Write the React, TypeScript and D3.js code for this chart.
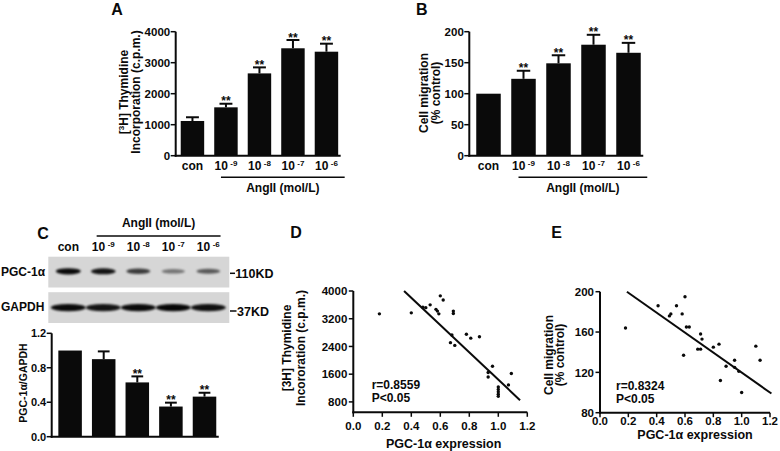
import React from 'react';
import * as d3 from 'd3';

// ---------- data ----------
const categories = ['con', '10 -9', '10 -8', '10 -7', '10 -6'];

const thymidineMean = [1120, 1560, 2655, 3465, 3355];
const thymidineErr = [120, 116, 194, 267, 258];
const thymidineSig = [false, true, true, true, true];
const thymidineTicks = [0, 1000, 2000, 3000, 4000];

const migrationMean = [100, 124, 149, 179, 166];
const migrationErr = [0, 13, 13, 16, 16];
const migrationSig = [false, true, true, true, true];
const migrationTicks = [0, 50, 100, 150, 200];

const ratioMean = [1.0, 0.9, 0.63, 0.35, 0.465];
const ratioErr = [0, 0.09, 0.07, 0.045, 0.045];
const ratioSig = [false, false, true, true, true];
const ratioTicks = [0, 0.4, 0.8, 1.2];

const pgcBandIntensity = [0.95, 0.9, 0.72, 0.45, 0.58];
const gapdhBandIntensity = [0.95, 0.9, 0.95, 0.97, 0.92];

const scatterXTicks = [0, 0.2, 0.4, 0.6, 0.8, 1.0, 1.2];
const thymScatterTicks = [800, 1600, 2400, 3200, 4000];
const migScatterTicks = [80, 120, 160, 200];

const thymScatter: [number, number][] = [
  [0.18, 3340], [0.40, 3370], [0.48, 3530], [0.50, 3520], [0.53, 3600],
  [0.57, 3470], [0.58, 3420], [0.59, 3340], [0.60, 3860], [0.62, 3740],
  [0.69, 3420], [0.69, 3350], [0.68, 2730], [0.67, 2510], [0.70, 2430],
  [0.78, 2750], [0.81, 2640], [0.87, 2680], [0.96, 1830], [0.93, 1650],
  [0.93, 1520], [1.0, 1230], [1.0, 1160], [1.0, 1090], [1.0, 1020],
  [1.0, 960], [1.07, 1290], [1.09, 1620],
];
const thymFit: [number, number][] = [[0.35, 4000], [1.15, 850]];

const migScatter: [number, number][] = [
  [0.18, 164], [0.41, 186], [0.49, 176], [0.50, 178], [0.54, 186],
  [0.58, 178], [0.60, 195], [0.61, 165], [0.63, 165], [0.59, 137],
  [0.71, 158], [0.72, 153], [0.69, 143], [0.71, 143], [0.80, 145],
  [0.84, 148], [0.85, 112], [0.89, 126], [0.95, 132], [0.95, 125],
  [0.98, 121], [1.0, 100], [1.10, 146], [1.13, 132],
];
const migFit: [number, number][] = [[0.19, 200], [1.21, 99]];

// ---------- helpers ----------
const FONT = 'Liberation Sans, Arial, Helvetica, sans-serif';
const INK = '#0a0a0a';

function CatLabel({ cat }: { cat: string }) {
  if (cat === 'con') return <>con</>;
  const [base, exp] = cat.split(' ');
  return (
    <>
      <tspan>{base}</tspan>
      <tspan fontSize={8} dx={2.5} dy={-4}>{exp}</tspan>
    </>
  );
}

type BarProps = {
  axisX: number; left: number; right: number; top: number; bottom: number;
  max: number; ticks: number[]; fmt: (n: number) => string;
  means: number[]; errs: number[]; sig: boolean[]; tickSize: number;
  showCats: boolean; capFrac: number;
};

function BarPanel(p: BarProps) {
  const x = d3.scaleBand<string>().domain(categories).range([p.left, p.right])
    .paddingInner(0.3).paddingOuter(0.15);
  const y = d3.scaleLinear().domain([0, p.max]).range([p.bottom, p.top]);
  const bw = x.bandwidth();
  const lastEnd = (x(categories[categories.length - 1]) as number) + bw;
  const lineStart = (x(categories[1]) as number) + bw / 2 - 5;
  const lineEnd = lastEnd + 6.5;
  return (
    <g>
      {categories.map((c, i) => {
        const bx = x(c) as number;
        const cx = bx + bw / 2;
        const yTop = y(p.means[i]);
        const yErr = y(p.means[i] + p.errs[i]);
        const cap = bw * p.capFrac;
        return (
          <g key={c}>
            <rect x={bx} y={yTop} width={bw} height={p.bottom - yTop} fill={INK} />
            {p.errs[i] > 0 && (
              <>
                <line x1={cx} x2={cx} y1={yTop} y2={yErr} stroke={INK} strokeWidth={2} />
                <line x1={cx - cap / 2} x2={cx + cap / 2} y1={yErr} y2={yErr} stroke={INK} strokeWidth={2} />
              </>
            )}
            {p.sig[i] && (
              <text x={cx} y={yErr + 1.5} textAnchor="middle" fontSize={12} fontWeight="bold"
                fontFamily={FONT} fill={INK}>**</text>
            )}
            {p.showCats && (
              <text x={cx} y={p.bottom + 14.3} textAnchor="middle" fontSize={12} fontWeight="bold"
                fontFamily={FONT} fill={INK}><CatLabel cat={c} /></text>
            )}
          </g>
        );
      })}
      <line x1={p.axisX} x2={p.axisX} y1={p.top} y2={p.bottom + 1} stroke={INK} strokeWidth={2} />
      <line x1={p.axisX - 1} x2={lastEnd + 2.5} y1={p.bottom} y2={p.bottom} stroke={INK} strokeWidth={2} />
      {p.ticks.map((t) => (
        <g key={t}>
          <line x1={p.axisX - 5} x2={p.axisX} y1={y(t)} y2={y(t)} stroke={INK} strokeWidth={1.5} />
          <text x={p.axisX - 5.5} y={y(t)} dy="0.36em" textAnchor="end" fontSize={p.tickSize}
            fontWeight="bold" fontFamily={FONT} fill={INK}>{p.fmt(t)}</text>
        </g>
      ))}
      {p.showCats && (
        <>
          <line x1={lineStart} x2={lineEnd} y1={p.bottom + 21.6} y2={p.bottom + 21.6}
            stroke={INK} strokeWidth={1.5} />
          <text x={(lineStart + lineEnd) / 2} y={p.bottom + 36.3} textAnchor="middle" fontSize={12}
            fontWeight="bold" fontFamily={FONT} fill={INK}>AngII (mol/L)</text>
        </>
      )}
    </g>
  );
}

type ScatterProps = {
  xLeft: number; xRight: number; yTop: number; yBottom: number;
  yDomain: [number, number]; yTicks: number[]; points: [number, number][];
  fit: [number, number][]; rText: string; xTickBase: number; xLabelBase: number;
  xLabelX: number; textX: number; textY: number;
};

function ScatterPanel(p: ScatterProps) {
  const x = d3.scaleLinear().domain([0, 1.2]).range([p.xLeft, p.xRight]);
  const y = d3.scaleLinear().domain(p.yDomain).range([p.yBottom, p.yTop]);
  const line = d3.line<[number, number]>().x((d) => x(d[0])).y((d) => y(d[1]));
  const fmtX = d3.format('.1f');
  return (
    <g>
      <line x1={p.xLeft} x2={p.xLeft} y1={y(p.yDomain[1])} y2={p.yBottom + 1} stroke={INK} strokeWidth={2} />
      <line x1={p.xLeft - 1} x2={p.xRight} y1={p.yBottom} y2={p.yBottom} stroke={INK} strokeWidth={2} />
      {p.yTicks.map((t) => (
        <g key={t}>
          <line x1={p.xLeft - 4.5} x2={p.xLeft} y1={y(t)} y2={y(t)} stroke={INK} strokeWidth={1.5} />
          <text x={p.xLeft - 6} y={y(t)} dy="0.36em" textAnchor="end" fontSize={11.5}
            fontWeight="bold" fontFamily={FONT} fill={INK}>{t}</text>
        </g>
      ))}
      {scatterXTicks.map((t) => (
        <g key={t}>
          <line x1={x(t)} x2={x(t)} y1={p.yBottom} y2={p.yBottom + 4.5} stroke={INK} strokeWidth={1.5} />
          <text x={x(t)} y={p.xTickBase} textAnchor="middle" fontSize={11.5}
            fontWeight="bold" fontFamily={FONT} fill={INK}>{fmtX(t)}</text>
        </g>
      ))}
      {p.points.map((d, i) => (
        <circle key={i} cx={x(d[0])} cy={y(d[1])} r={1.7} fill={INK} />
      ))}
      <path d={line(p.fit) as string} stroke={INK} strokeWidth={2} fill="none" />
      <text x={p.textX} y={p.textY} fontSize={12} fontWeight="bold" fontFamily={FONT} fill={INK}>{p.rText}</text>
      <text x={p.textX} y={p.textY + 13} fontSize={12} fontWeight="bold" fontFamily={FONT} fill={INK}>P&lt;0.05</text>
      <text x={p.xLabelX} y={p.xLabelBase} textAnchor="middle" fontSize={12.5} fontWeight="bold"
        fontFamily={FONT} fill={INK}>PGC-1α expression</text>
    </g>
  );
}

function VLabel({ x, y, size = 12, children }: { x: number; y: number; size?: number; children: React.ReactNode }) {
  return (
    <text transform={`translate(${x},${y}) rotate(-90)`} textAnchor="middle" dy="0.36em"
      fontSize={size} fontWeight="bold" fontFamily={FONT} fill={INK}>{children}</text>
  );
}

function Blot() {
  const lanes = d3.scaleBand<string>().domain(categories).range([50.8, 225.8]);
  const step = lanes.bandwidth();
  const lc = (c: string) => (lanes(c) as number) + step / 2;
  const l1 = lc(categories[1]) - step * 0.19;
  const l2 = lc(categories[4]) + step * 0.35;
  return (
    <g>
      <defs>
        <filter id="bandBlur" x="-30%" y="-200%" width="160%" height="500%">
          <feGaussianBlur stdDeviation="1.3" />
        </filter>
        <filter id="bandBlur2" x="-30%" y="-200%" width="160%" height="500%">
          <feGaussianBlur stdDeviation="1.1" />
        </filter>
      </defs>
      <text x={(l1 + l2) / 2} y={226.7} textAnchor="middle" fontSize={12} fontWeight="bold"
        fontFamily={FONT} fill={INK}>AngII (mol/L)</text>
      <line x1={l1} x2={l2} y1={236} y2={236} stroke={INK} strokeWidth={1.5} />
      {categories.map((c) => (
        <text key={c} x={lc(c)} y={251} textAnchor="middle" fontSize={12} fontWeight="bold"
          fontFamily={FONT} fill={INK}><CatLabel cat={c} /></text>
      ))}
      <rect x={48.3} y={256.7} width={181} height={30.8} fill="#d6d6d6" />
      <rect x={48.3} y={292.2} width={181} height={30.8} fill="#d6d6d6" />
      {categories.map((c, i) => (
        <ellipse key={'p' + c} cx={lc(c)} cy={271.3} rx={11 + pgcBandIntensity[i] * 1.5}
          ry={1.6 + pgcBandIntensity[i] * 1.6} fill="#000" opacity={pgcBandIntensity[i]}
          filter="url(#bandBlur)" />
      ))}
      {categories.map((c, i) => (
        <ellipse key={'g' + c} cx={lc(c)} cy={307.6} rx={17.5}
          ry={3.6} fill="#000" opacity={gapdhBandIntensity[i]} filter="url(#bandBlur2)" />
      ))}
      <text x={1} y={275.5} fontSize={12} fontWeight="bold" fontFamily={FONT} fill={INK}>PGC-1α</text>
      <text x={1} y={311.2} fontSize={12} fontWeight="bold" fontFamily={FONT} fill={INK}>GAPDH</text>
      <line x1={230} x2={235} y1={273.3} y2={273.3} stroke={INK} strokeWidth={1.5} />
      <text x={235.3} y={277.8} fontSize={12.5} fontWeight="bold" fontFamily={FONT} fill={INK}>110KD</text>
      <line x1={230} x2={236.5} y1={311} y2={311} stroke={INK} strokeWidth={1.5} />
      <text x={237} y={315.5} fontSize={12.5} fontWeight="bold" fontFamily={FONT} fill={INK}>37KD</text>
    </g>
  );
}

export default function App() {
  const intFmt = d3.format('d');
  const decFmt = d3.format('.1f');
  return (
    <svg width={780} height={451} viewBox="0 0 780 451"
      style={{ position: 'absolute', left: 0, top: 0, background: '#fff' }}>
      <rect width={780} height={451} fill="#fff" />
      {/* Panel letters */}
      {[['A', 117, 15], ['B', 421.7, 15], ['C', 43, 239], ['D', 296, 238], ['E', 556.7, 238]].map(([t, x, y]) => (
        <text key={t as string} x={x as number} y={y as number} textAnchor="middle" fontSize={16}
          fontWeight="bold" fontFamily={FONT} fill={INK}>{t}</text>
      ))}

      {/* A */}
      <BarPanel axisX={175.7} left={175.7} right={343.2} top={31.7} bottom={155.7} max={4000}
        ticks={thymidineTicks} fmt={intFmt} means={thymidineMean} errs={thymidineErr}
        sig={thymidineSig} tickSize={11.5} showCats={true} capFrac={0.55} />
      <VLabel x={123.3} y={92}>
        <tspan>[</tspan><tspan fontSize={8} dy={-4}>3</tspan><tspan dy={4}>H] Thymidine</tspan>
      </VLabel>
      <VLabel x={135.5} y={92}>Incorporation (c.p.m.)</VLabel>

      {/* B */}
      <BarPanel axisX={469.3} left={471} right={646} top={31.7} bottom={155.7} max={200}
        ticks={migrationTicks} fmt={intFmt} means={migrationMean} errs={migrationErr}
        sig={migrationSig} tickSize={11.5} showCats={true} capFrac={0.55} />
      <VLabel x={423.3} y={93}>Cell migration</VLabel>
      <VLabel x={435.5} y={93}>(% control)</VLabel>

      {/* C */}
      <Blot />
      <BarPanel axisX={51.7} left={53.3} right={221.3} top={333.3} bottom={436.7} max={1.2}
        ticks={ratioTicks} fmt={decFmt} means={ratioMean} errs={ratioErr}
        sig={ratioSig} tickSize={11} showCats={false} capFrac={0.5} />
      <VLabel x={23.3} y={383} size={10.5}>PGC-1α/GAPDH</VLabel>

      {/* D */}
      <ScatterPanel xLeft={353.3} xRight={527.3} yTop={291} yBottom={412.3} yDomain={[500, 4000]}
        yTicks={thymScatterTicks} points={thymScatter} fit={thymFit} rText="r=0.8559"
        xTickBase={430.3} xLabelBase={447.5} xLabelX={443.7} textX={371.7} textY={388.6} />
      <VLabel x={287} y={348}>[3H] Thymidine</VLabel>
      <VLabel x={301} y={348}>Incororation (c.p.m.)</VLabel>

      {/* E */}
      <ScatterPanel xLeft={600} xRight={770} yTop={291.7} yBottom={412.7} yDomain={[80, 200]}
        yTicks={migScatterTicks} points={migScatter} fit={migFit} rText="r=0.8324"
        xTickBase={425} xLabelBase={438.5} xLabelX={695} textX={616} textY={390} />
      <VLabel x={548.3} y={355}>Cell migration</VLabel>
      <VLabel x={560} y={355}>(% control)</VLabel>
    </svg>
  );
}
